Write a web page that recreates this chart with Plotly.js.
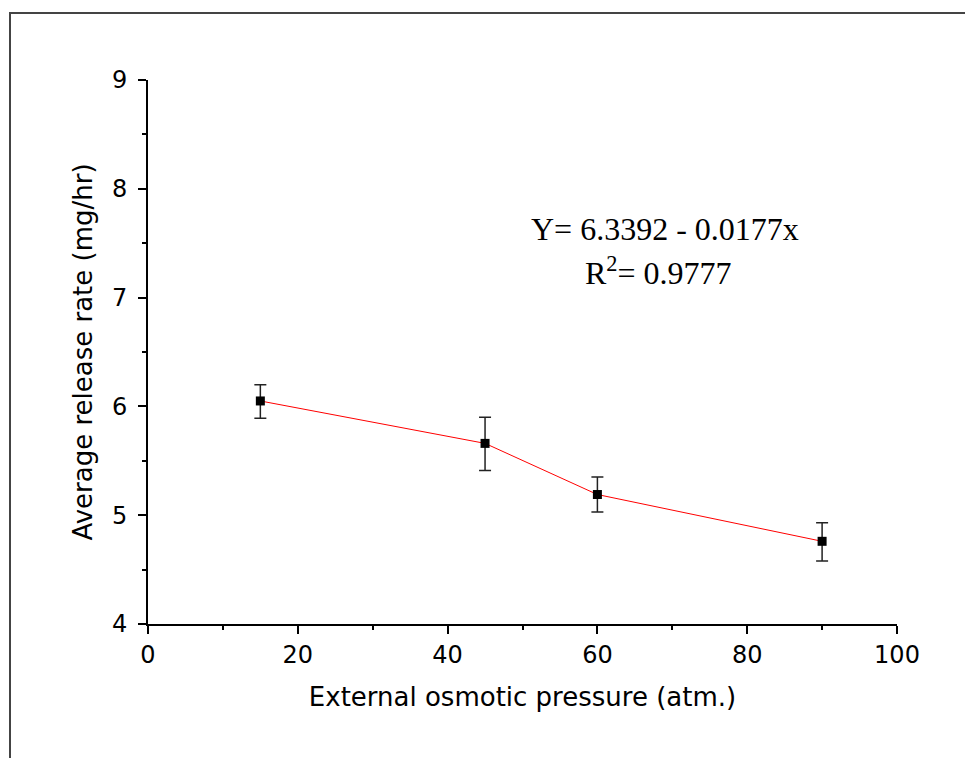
<!DOCTYPE html>
<html>
<head>
<meta charset="utf-8">
<script src="https://cdn.plot.ly/plotly-3.0.1.min.js"></script>
<style>
  html, body { margin: 0; padding: 0; background: #fff; }
  #wrap { position: relative; width: 965px; height: 758px; }
  #chart { position: absolute; left: 0; top: 0; width: 965px; height: 758px; }
  #frame { position: absolute; left: 9px; top: 12px; width: 956px; height: 746px;
           border-top: 2px solid #444; border-left: 2px solid #444; pointer-events: none; }
</style>
</head>
<body>
<div id="wrap">
  <div id="chart"></div>
  <div id="frame"></div>
</div>
<script>
// Data
const pressure = [15, 45, 60, 90];           // External osmotic pressure (atm.)
const releaseRate = [6.05, 5.66, 5.19, 4.76]; // Average release rate (mg/hr)
const errPlus = [0.15, 0.24, 0.16, 0.17];
const errMinus = [0.16, 0.25, 0.16, 0.18];
const xTicks = [0, 20, 40, 60, 80, 100];
const yTicks = [4, 5, 6, 7, 8, 9];
const eqText = ["Y= 6.3392 - 0.0177x", "R<sup>2</sup>= 0.9777"];

const trace = {
  x: pressure,
  y: releaseRate,
  type: 'scatter',
  mode: 'lines+markers',
  line: { color: '#ff0000', width: 1 },
  marker: { symbol: 'square', size: 9, color: '#000' },
  error_y: {
    type: 'data', symmetric: false,
    array: errPlus, arrayminus: errMinus,
    color: '#222', thickness: 1.5, width: 6
  },
  showlegend: false
};

const sans = 'DejaVu Sans, Liberation Sans, Arial, sans-serif';
const serif = 'Liberation Serif, Times New Roman, serif';

const layout = {
  width: 965, height: 758,
  margin: { l: 148, r: 68, t: 80, b: 134 },
  paper_bgcolor: '#fff', plot_bgcolor: '#fff',
  showlegend: false,
  xaxis: {
    range: [0, 100], tickvals: xTicks, ticktext: xTicks.map(String),
    showgrid: false, zeroline: false,
    showline: true, linecolor: '#000', linewidth: 2,
    ticks: 'outside', ticklen: 8, tickwidth: 2, tickcolor: '#000',
    minor: { dtick: 10, ticks: 'outside', ticklen: 4, tickwidth: 2, tickcolor: '#000', showgrid: false },
    tickfont: { family: sans, size: 24, color: '#000' },
    title: { text: 'External osmotic pressure (atm.)', font: { family: sans, size: 26, color: '#000' }, standoff: 20 },
    fixedrange: true
  },
  yaxis: {
    range: [4, 9], tickvals: yTicks, ticktext: yTicks.map(String),
    showgrid: false, zeroline: false,
    showline: true, linecolor: '#000', linewidth: 2,
    ticks: 'outside', ticklen: 8, tickwidth: 2, tickcolor: '#000',
    ticklabelstandoff: 6,
    minor: { dtick: 0.5, ticks: 'outside', ticklen: 4, tickwidth: 2, tickcolor: '#000', showgrid: false },
    tickfont: { family: sans, size: 24, color: '#000' },
    title: { text: 'Average release rate (mg/hr)', font: { family: sans, size: 26, color: '#000' }, standoff: 12 },
    fixedrange: true
  },
  annotations: [
    { x: 69.0, y: 7.63, xref: 'x', yref: 'y', text: eqText[0], showarrow: false,
      font: { family: serif, size: 32, color: '#000' } },
    { x: 68.1, y: 7.24, xref: 'x', yref: 'y', text: eqText[1], showarrow: false,
      font: { family: serif, size: 32, color: '#000' } }
  ]
};

Plotly.newPlot('chart', [trace], layout, { displayModeBar: false, staticPlot: true });
</script>
</body>
</html>
